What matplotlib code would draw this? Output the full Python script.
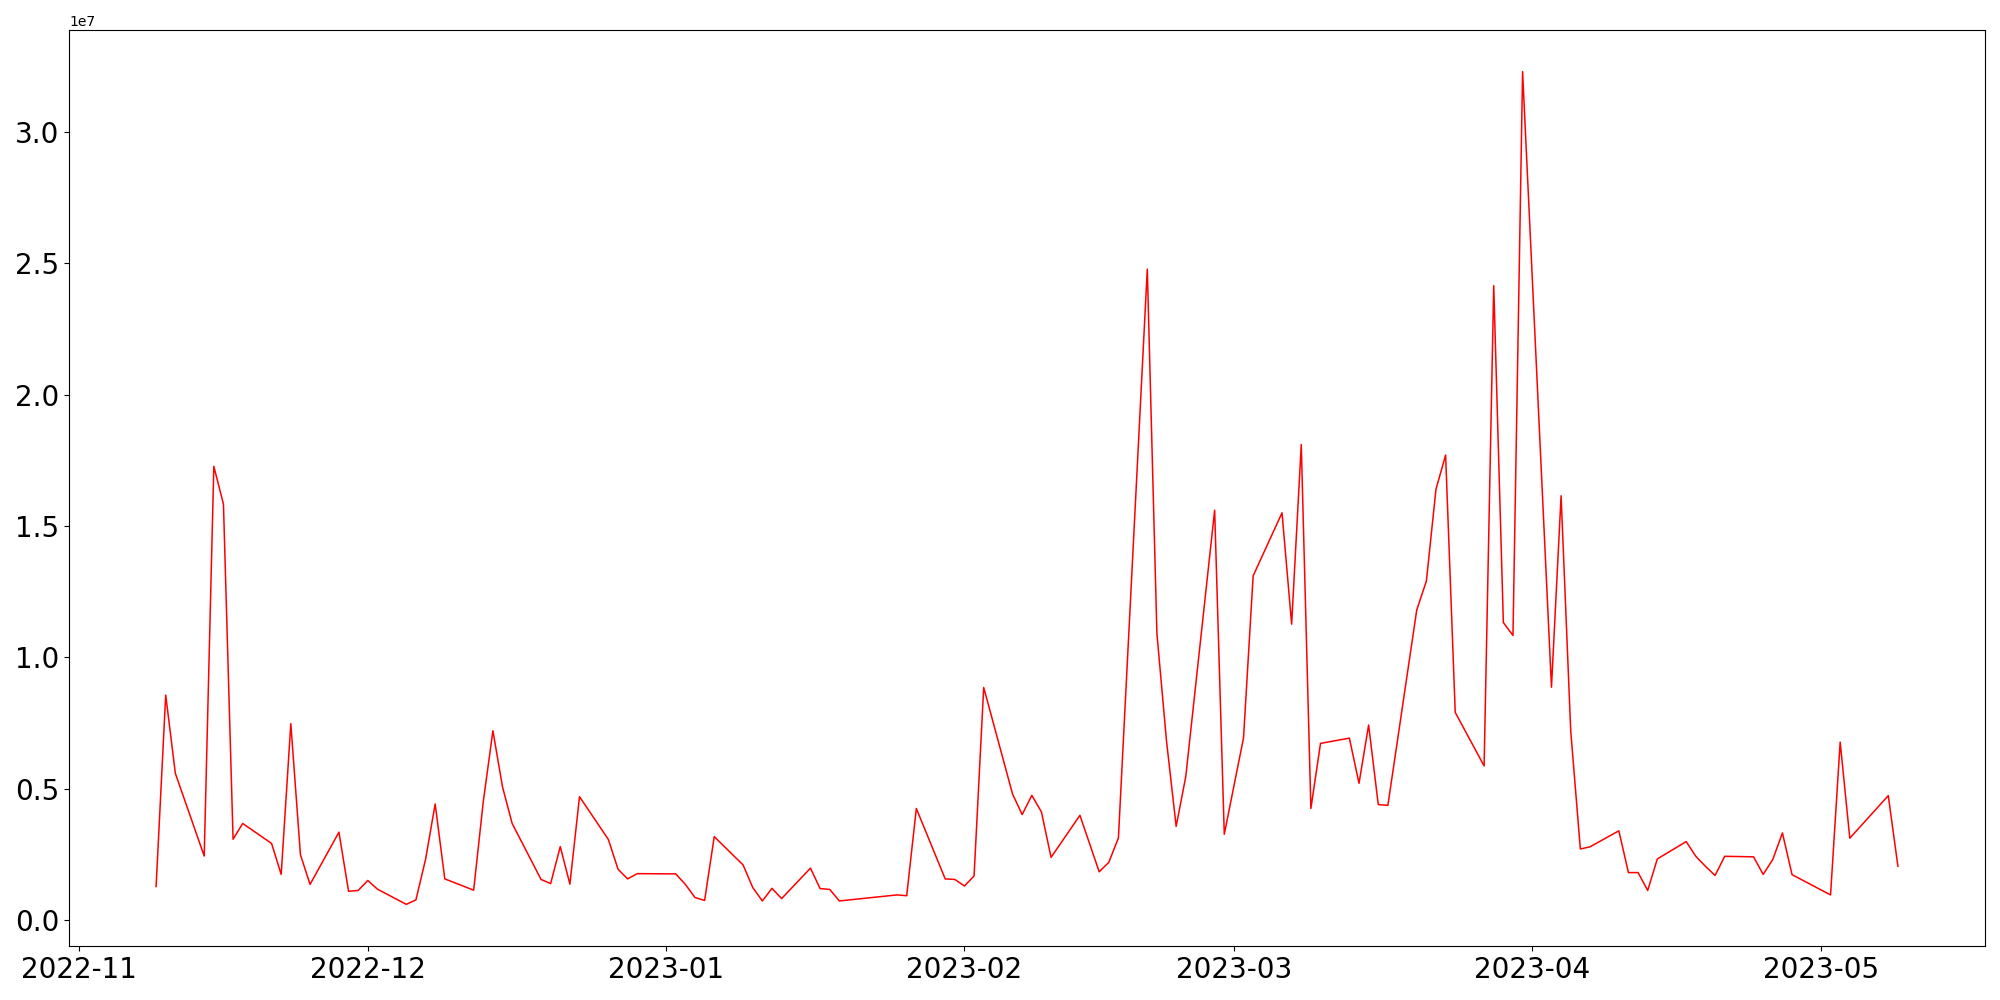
import matplotlib
matplotlib.use("Agg")
import matplotlib.pyplot as plt
import pandas as pd

dates = [
    "2022-11-09", "2022-11-10", "2022-11-11", "2022-11-14", "2022-11-15", "2022-11-16",
    "2022-11-17", "2022-11-18", "2022-11-21", "2022-11-22", "2022-11-23", "2022-11-24",
    "2022-11-25", "2022-11-28", "2022-11-29", "2022-11-30", "2022-12-01", "2022-12-02",
    "2022-12-05", "2022-12-06", "2022-12-07", "2022-12-08", "2022-12-09", "2022-12-12",
    "2022-12-13", "2022-12-14", "2022-12-15", "2022-12-16", "2022-12-19", "2022-12-20",
    "2022-12-21", "2022-12-22", "2022-12-23", "2022-12-26", "2022-12-27", "2022-12-28",
    "2022-12-29", "2023-01-02", "2023-01-03", "2023-01-04", "2023-01-05", "2023-01-06",
    "2023-01-09", "2023-01-10", "2023-01-11", "2023-01-12", "2023-01-13", "2023-01-16",
    "2023-01-17", "2023-01-18", "2023-01-19", "2023-01-25", "2023-01-26", "2023-01-27",
    "2023-01-30", "2023-01-31", "2023-02-01", "2023-02-02", "2023-02-03", "2023-02-06",
    "2023-02-07", "2023-02-08", "2023-02-09", "2023-02-10", "2023-02-13", "2023-02-15",
    "2023-02-16", "2023-02-17", "2023-02-20", "2023-02-21", "2023-02-22", "2023-02-23",
    "2023-02-24", "2023-02-27", "2023-02-28", "2023-03-02", "2023-03-03", "2023-03-06",
    "2023-03-07", "2023-03-08", "2023-03-09", "2023-03-10", "2023-03-13", "2023-03-14",
    "2023-03-15", "2023-03-16", "2023-03-17", "2023-03-20", "2023-03-21", "2023-03-22",
    "2023-03-23", "2023-03-24", "2023-03-27", "2023-03-28", "2023-03-29", "2023-03-30",
    "2023-03-31", "2023-04-03", "2023-04-04", "2023-04-05", "2023-04-06", "2023-04-07",
    "2023-04-10", "2023-04-11", "2023-04-12", "2023-04-13", "2023-04-14", "2023-04-17",
    "2023-04-18", "2023-04-19", "2023-04-20", "2023-04-21", "2023-04-24", "2023-04-25",
    "2023-04-26", "2023-04-27", "2023-04-28", "2023-05-02", "2023-05-03", "2023-05-04",
    "2023-05-08", "2023-05-09",
]

values_millions = [
    1.27, 8.56, 5.58, 2.43, 17.27, 15.83,
    3.07, 3.67, 2.91, 1.73, 7.47, 2.48,
    1.35, 3.34, 1.09, 1.12, 1.50, 1.17,
    0.59, 0.76, 2.30, 4.41, 1.56, 1.13,
    4.50, 7.20, 5.06, 3.67, 1.54, 1.38,
    2.79, 1.36, 4.69, 3.06, 1.93, 1.56,
    1.76, 1.75, 1.35, 0.85, 0.74, 3.17,
    2.09, 1.23, 0.72, 1.20, 0.81, 1.97,
    1.19, 1.16, 0.72, 0.95, 0.92, 4.24,
    1.56, 1.54, 1.29, 1.67, 8.85, 4.79,
    4.01, 4.74, 4.11, 2.38, 3.98, 1.83,
    2.19, 3.12, 24.78, 10.90, 6.80, 3.56,
    5.46, 15.60, 3.26, 6.93, 13.10, 15.50,
    11.26, 18.10, 4.24, 6.72, 6.92, 5.20,
    7.42, 4.39, 4.36, 11.80, 12.90, 16.40,
    17.70, 7.90, 5.86, 24.15, 11.32, 10.83,
    32.30, 8.86, 16.15, 7.20, 2.70, 2.78,
    3.39, 1.80, 1.80, 1.12, 2.32, 2.98,
    2.42, 2.04, 1.69, 2.42, 2.40, 1.73,
    2.30, 3.31, 1.72, 0.95, 6.77, 3.11,
    4.73, 2.04,
]

x = pd.to_datetime(dates)
y = [v * 1e6 for v in values_millions]

fig, ax = plt.subplots(figsize=(20, 10), dpi=100)
fig.subplots_adjust(left=0.0345, right=0.9925, top=0.97, bottom=0.054)
ax.plot(x, y, color="red", linewidth=1.1)
ax.tick_params(axis="both", labelsize=20)

fig.savefig("out.png", dpi=100)
